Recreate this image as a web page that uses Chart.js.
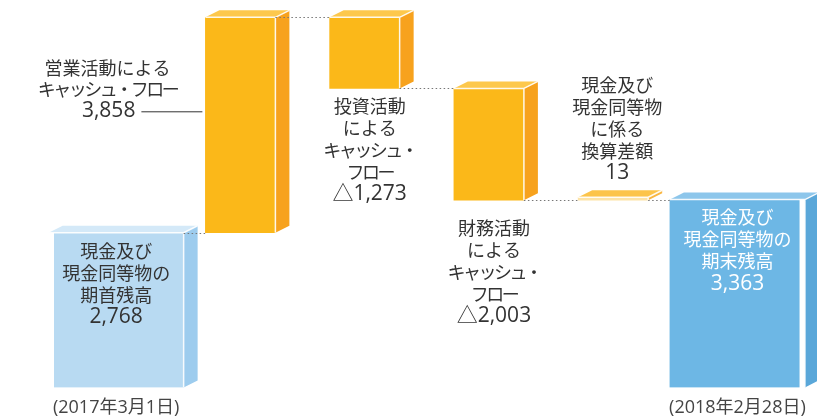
<!DOCTYPE html>
<html lang="ja">
<head>
<meta charset="utf-8">
<title>キャッシュ・フロー</title>
<script src="https://cdn.jsdelivr.net/npm/chart.js@4.4.1/dist/chart.umd.min.js"></script>
<style>
  html, body { margin: 0; padding: 0; background: #fff; }
  #wrap { width: 817px; height: 416px; }
</style>
</head>
<body>
<div id="wrap"><canvas id="chart"></canvas></div>
<script>
const categories = ["期首残高", "営業活動", "投資活動", "財務活動", "換算差額", "期末残高"];
const amounts = [2768, 3858, -1273, -2003, 13, 3363];
const dateLabels = ["(2017年3月1日)", "", "", "", "", "(2018年2月28日)"];
const barTexts = [
    ["現金及び", "現金同等物の", "期首残高"],
    ["営業活動による", "キャッシュ・フロー"],
    ["投資活動", "による", "キャッシュ・", "フロー"],
    ["財務活動", "による", "キャッシュ・", "フロー"],
    ["現金及び", "現金同等物", "に係る", "換算差額"],
    ["現金及び", "現金同等物の", "期末残高"],
];

const frontColors = ["#B8DAF2", "#FBB819", "#FBB819", "#FBB819", "#FDE3A6", "#6DB7E5"];
const sideColors = ["#9DCCEE", "#F7A21D", "#F7A21D", "#F7A21D", "#F9B640", "#5AA7D9"];
const topColors = ["#D4E9F8", "#FDC84C", "#FDC84C", "#FDC84C", "#FCC44A", "#8DC6EB"];

// start / end balances stand on zero, the flows float on the running total
const balanceData = [];
const flowData = [];
const levels = [];
let running = 0;
amounts.forEach((v, i) => {
    if (i === 0 || i === amounts.length - 1) {
        balanceData.push([0, v]);
        flowData.push(null);
        running = v;
    } else {
        flowData.push([running, running + v]);
        balanceData.push(null);
        running += v;
    }
    levels.push(running);
});

const fmt = (v) => (v < 0 ? "△" : "") + Math.abs(v).toLocaleString("en-US");

const DX = 14, DY = 7;
const TEXT_FONT = '18px "Noto Sans CJK JP", sans-serif';
const NUM_FONT = '21px "Open Sans", "Noto Sans CJK JP", sans-serif';

const cubePlugin = {
    id: "cube",
    afterDatasetsDraw(chart) {
        const ctx = chart.ctx;
        const yScale = chart.scales.y;
        const boxes = [];
        chart.data.datasets.forEach((ds, di) => {
            chart.getDatasetMeta(di).data.forEach((bar, i) => {
                if (ds.data[i] == null) return;
                const p = bar.getProps(["x", "y", "base", "width"], true);
                const top = Math.min(p.y, p.base), bottom = Math.max(p.y, p.base);
                const left = p.x - p.width / 2, right = p.x + p.width / 2;
                boxes[i] = { x: p.x, top, bottom, left, right };
            });
        });

        ctx.save();
        boxes.forEach((b, i) => {
            // side face
            ctx.fillStyle = sideColors[i];
            ctx.beginPath();
            ctx.moveTo(b.right, b.top);
            ctx.lineTo(b.right + DX, b.top - DY);
            ctx.lineTo(b.right + DX, b.bottom - DY);
            ctx.lineTo(b.right, b.bottom);
            ctx.closePath();
            ctx.fill();
            // top face
            ctx.fillStyle = topColors[i];
            ctx.beginPath();
            ctx.moveTo(b.left, b.top);
            ctx.lineTo(b.left + DX, b.top - DY);
            ctx.lineTo(b.right + DX, b.top - DY);
            ctx.lineTo(b.right, b.top);
            ctx.closePath();
            ctx.fill();
            // white edges
            ctx.strokeStyle = "rgba(255,255,255,0.9)";
            ctx.lineWidth = 1.5;
            ctx.beginPath();
            ctx.moveTo(b.left, b.top);
            ctx.lineTo(b.right, b.top);
            ctx.lineTo(b.right, b.bottom);
            ctx.moveTo(b.right, b.top);
            ctx.lineTo(b.right + DX, b.top - DY);
            ctx.stroke();
        });

        // dotted connectors
        ctx.strokeStyle = "#777";
        ctx.lineWidth = 1.2;
        ctx.setLineDash([1.5, 2.5]);
        for (let i = 0; i < boxes.length - 1; i++) {
            const y = Math.round(yScale.getPixelForValue(levels[i])) + 0.5;
            ctx.beginPath();
            ctx.moveTo(boxes[i].right, y);
            ctx.lineTo(boxes[i + 1].left, y);
            ctx.stroke();
        }
        ctx.restore();
        chart.$boxes = boxes;
    },
    afterDraw(chart) {
        const ctx = chart.ctx;
        const boxes = chart.$boxes;
        if (!boxes) return;
        const LH = 22;
        // numbers are set a little larger than the kana/kanji
        const put = (t, x, y) => {
            const isNum = /^[△0-9,]+$/.test(t);
            const isKana = /[ァ-ヶー・]/.test(t) && !/[一-龯]/.test(t);
            ctx.font = isNum ? NUM_FONT : TEXT_FONT;
            ctx.letterSpacing = isKana ? "-2.5px" : "0px";
            ctx.fillText(t, x, y);
        };
        ctx.save();
        ctx.textBaseline = "middle";
        ctx.textAlign = "center";
        ctx.fillStyle = "#333";
        boxes.forEach((b, i) => {
            const lines = barTexts[i].concat(fmt(amounts[i]));
            if (i === 0 || i === boxes.length - 1) {
                ctx.fillStyle = i === 0 ? "#333" : "#fff";
                lines.forEach((t, k) => put(t, b.x, b.top + 18 + k * LH));
                ctx.fillStyle = "#333";
            } else if (i === 1) {
                const cx = b.left - 98;
                const y0 = b.top + 51;
                put(lines[0], cx, y0);
                put(lines[1], cx, y0 + 21);
                ctx.textAlign = "right";
                put(lines[2], b.left - 70, y0 + 43);
                ctx.textAlign = "center";
                ctx.strokeStyle = "#333";
                ctx.lineWidth = 1;
                ctx.beginPath();
                ctx.moveTo(b.left - 64, y0 + 43.5);
                ctx.lineTo(b.left - 3, y0 + 43.5);
                ctx.stroke();
            } else if (amounts[i] < 0) {
                const y0 = b.bottom + (i === 2 ? 18 : 28);
                lines.forEach((t, k) => put(t, b.x + 5, y0 + k * LH));
            } else {
                const yEnd = b.top - 24;
                lines.forEach((t, k) => put(t, b.x + 4, yEnd - (lines.length - 1 - k) * LH));
            }
        });
        ctx.restore();
    }
};

new Chart(document.querySelector("#chart"), {
    type: "bar",
    data: {
        labels: categories,
        datasets: [
            {
                label: "残高",
                data: balanceData,
                backgroundColor: frontColors,
                barThickness: 135,
                grouped: false,
                borderWidth: 0,
            },
            {
                label: "キャッシュ・フロー",
                data: flowData,
                backgroundColor: frontColors,
                barThickness: 70,
                minBarLength: 3,
                grouped: false,
                borderWidth: 0,
            },
        ],
    },
    options: {
        responsive: true,
        maintainAspectRatio: false,
        animation: false,
        layout: { padding: { left: 54, right: 15, top: 2, bottom: -13 } },
        plugins: { legend: { display: false }, tooltip: { enabled: false } },
        scales: {
            x: {
                grid: { display: false, drawTicks: false },
                border: { display: false },
                ticks: {
                    autoSkip: false,
                    maxRotation: 0,
                    padding: 10,
                    color: "#444",
                    font: { family: '"Open Sans", "Noto Sans CJK JP", sans-serif', size: 18 },
                    callback: (v, i) => dateLabels[i],
                },
            },
            y: { display: false, min: 0, max: 6900 },
        },
    },
    plugins: [cubePlugin],
});
</script>
</body>
</html>
